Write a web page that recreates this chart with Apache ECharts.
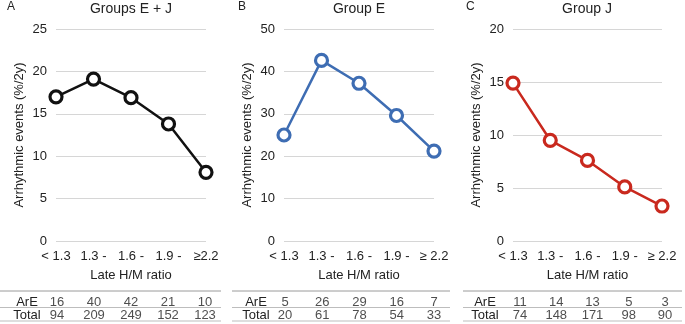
<!DOCTYPE html>
<html>
<head>
<meta charset="utf-8">
<script src="https://cdn.jsdelivr.net/npm/echarts@6/dist/echarts.min.js"></script>
<style>
  html, body { margin: 0; padding: 0; background: #fff; }
  #chart { width: 685px; height: 324px; }
</style>
</head>
<body>
<div id="chart"></div>
<script>
// categories of late H/M ratio
var catsA = ['< 1.3', '1.3 -', '1.6 -', '1.9 -', '≥2.2'];
var catsBC = ['< 1.3', '1.3 -', '1.6 -', '1.9 -', '≥ 2.2'];

// arrhythmic events (%/2y)
var rateA = [17.0, 19.1, 16.9, 13.8, 8.1];
var rateB = [25.0, 42.6, 37.2, 29.6, 21.2];
var rateC = [14.9, 9.5, 7.6, 5.1, 3.3];

// table rows
var rowNames = ['ArE', 'Total'];
var arEA = [16, 40, 42, 21, 10];
var totA = [94, 209, 249, 152, 123];
var arEB = [5, 26, 29, 16, 7];
var totB = [20, 61, 78, 54, 33];
var arEC = [11, 14, 13, 5, 3];
var totC = [74, 148, 171, 98, 90];

var font = '"Liberation Sans", Arial, sans-serif';
var narrow = '"Liberation Sans Narrow", "Liberation Sans", Arial, sans-serif';
var txt = '#222';

var panels = [
  {letter: 'A', title: 'Groups E + J', cats: catsA, rate: rateA, arE: arEA, tot: totA,
   color: '#111', max: 25, step: 5, left: 56, right: 479, lx: 12, tx: 131,
   tLeft: 57, tRight: 480, rowGap: 30, lineL: 0, lineR: 221},
  {letter: 'B', title: 'Group E', cats: catsBC, rate: rateB, arE: arEB, tot: totB,
   color: '#3e6db3', max: 50, step: 10, left: 284, right: 251, lx: 243, tx: 359,
   tLeft: 285, tRight: 251, rowGap: 29, lineL: 232, lineR: 450},
  {letter: 'C', title: 'Group J', cats: catsBC, rate: rateC, arE: arEC, tot: totC,
   color: '#c9291e', max: 20, step: 5, left: 513, right: 23, lx: 471, tx: 587,
   tLeft: 520, tRight: 20, rowGap: 35, lineL: 463, lineR: 682}
];

var grid = [], xAxis = [], yAxis = [], series = [], graphic = [];

panels.forEach(function (p, i) {
  var g = i * 2;
  // chart grid
  grid.push({left: p.left, right: p.right, top: 29, bottom: 83});
  xAxis.push({
    type: 'category', gridIndex: g, data: p.cats, boundaryGap: false,
    axisLine: {show: false}, axisTick: {show: false},
    axisLabel: {color: txt, fontSize: 13, fontFamily: font, margin: 9, interval: 0},
    name: 'Late H/M ratio', nameLocation: 'middle', nameGap: 28,
    nameTextStyle: {color: txt, fontSize: 13, fontFamily: font}
  });
  yAxis.push({
    type: 'value', gridIndex: g, min: 0, max: p.max, interval: p.step,
    axisLine: {show: false}, axisTick: {show: false},
    axisLabel: {color: txt, fontSize: 13, fontFamily: font, margin: 9},
    splitLine: {lineStyle: {color: '#d6d6d6', width: 1}},
    name: 'Arrhythmic events (%/2y)', nameLocation: 'middle', nameGap: 30,
    nameTextStyle: {color: txt, fontSize: 13, fontFamily: font}
  });
  series.push({
    type: 'line', xAxisIndex: g, yAxisIndex: g, data: p.rate,
    symbol: 'circle', symbolSize: 12,
    lineStyle: {color: p.color, width: 2.5},
    itemStyle: {color: '#fff', borderColor: p.color, borderWidth: 3.2},
    z: 3, animation: false
  });

  // table grid
  grid.push({left: p.tLeft, right: p.tRight, top: 296, height: 26});
  xAxis.push({
    type: 'category', gridIndex: g + 1, data: p.cats, boundaryGap: false,
    axisLine: {show: false}, axisTick: {show: false}, axisLabel: {show: false}
  });
  yAxis.push({
    type: 'category', gridIndex: g + 1, data: rowNames, inverse: true,
    axisLine: {show: false}, axisTick: {show: false}, splitLine: {show: false},
    axisLabel: {color: txt, fontSize: 13, fontFamily: narrow, margin: p.rowGap,
      align: 'center', interval: 0, hideOverlap: false}
  });
  var cells = [];
  p.arE.forEach(function (v, k) { cells.push([k, 0, v]); });
  p.tot.forEach(function (v, k) { cells.push([k, 1, v]); });
  series.push({
    type: 'scatter', xAxisIndex: g + 1, yAxisIndex: g + 1, data: cells,
    symbolSize: 1, itemStyle: {color: 'rgba(0,0,0,0)'},
    label: {show: true, position: 'inside', color: txt, fontSize: 13, fontFamily: narrow,
      formatter: function (q) { return q.value[2]; }},
    animation: false, silent: true
  });

  // titles
  graphic.push({type: 'text', left: p.lx - 5, top: 1,
    style: {text: p.letter, fill: txt, font: '12px ' + font}});
  graphic.push({type: 'text', x: p.tx, y: 9,
    style: {text: p.title, fill: txt, font: '14px ' + font, align: 'center', verticalAlign: 'middle'}});
  // table rules
  [291, 307.5, 321].forEach(function (yy, k) {
    graphic.push({type: 'line', shape: {x1: p.lineL, y1: yy, x2: p.lineR, y2: yy},
      style: {stroke: k === 0 ? '#9a9a9a' : '#bdbdbd', lineWidth: 1}});
  });
});

var chart = echarts.init(document.getElementById('chart'));
chart.setOption({
  animation: false,
  backgroundColor: '#fff',
  grid: grid,
  xAxis: xAxis,
  yAxis: yAxis,
  series: series,
  graphic: graphic
});
</script>
</body>
</html>
